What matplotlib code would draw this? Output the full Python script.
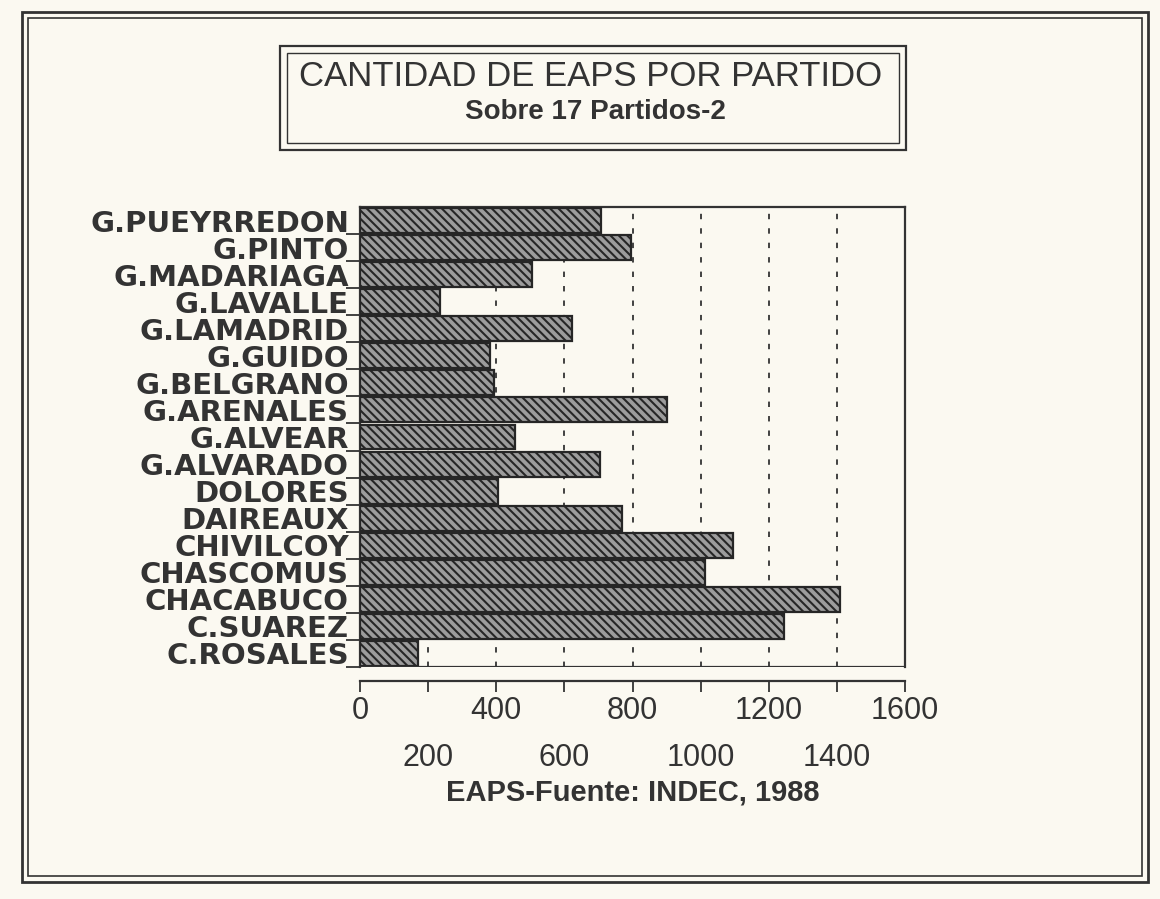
import numpy as np
import matplotlib.pyplot as plt
from matplotlib.patches import Rectangle
from matplotlib.ticker import FixedLocator, FixedFormatter

# data (bottom to top)
partidos = ['C.ROSALES', 'C.SUAREZ', 'CHACABUCO', 'CHASCOMUS', 'CHIVILCOY',
            'DAIREAUX', 'DOLORES', 'G.ALVARADO', 'G.ALVEAR', 'G.ARENALES',
            'G.BELGRANO', 'G.GUIDO', 'G.LAMADRID', 'G.LAVALLE', 'G.MADARIAGA',
            'G.PINTO', 'G.PUEYRREDON']
eaps = [170, 1245, 1410, 1012, 1095, 770, 405, 705, 455, 900,
        392, 382, 623, 236, 505, 797, 708]

major_ticks = [0, 400, 800, 1200, 1600]
minor_ticks = [200, 600, 1000, 1400]

ink = '#333333'
paper = '#fbf9f1'

plt.rcParams['font.family'] = ['Liberation Sans', 'DejaVu Sans']
plt.rcParams['hatch.color'] = '#2a2a2a'
plt.rcParams['hatch.linewidth'] = 1.5

fig = plt.figure(figsize=(11.6, 8.99), dpi=100, facecolor=paper)
W, H = 1160, 899

def px_rect(x0, y0, x1, y1, lw):
    # rectangle in pixel coords, origin top-left
    fig.patches.append(Rectangle((x0 / W, 1 - y1 / H), (x1 - x0) / W, (y1 - y0) / H,
                                 transform=fig.transFigure, fill=False,
                                 edgecolor=ink, linewidth=lw))

# outer double frame
px_rect(22, 12, 1148, 882, 2.0)
px_rect(28, 18, 1142, 876, 1.2)
# title double box
px_rect(280, 46, 906, 150, 1.6)
px_rect(287, 53, 899, 143, 1.0)

fig.text(591 / W, 1 - 76 / H, 'CANTIDAD DE EAPS POR PARTIDO', ha='center', va='center',
         fontsize=25, color=ink, fontweight='medium')
fig.text(595 / W, 1 - 112 / H, 'Sobre 17 Partidos-2', ha='center', va='center',
         fontsize=20, fontweight='bold', color=ink)

ax = fig.add_axes([360 / W, 1 - 667 / H, 545 / W, 460 / H])
ax.set_facecolor(paper)

y = np.arange(len(partidos))
ax.barh(y, eaps, height=0.92, color='#9c9c9c', edgecolor='#262626',
        hatch='\\\\\\\\', linewidth=1.6, zorder=3)

ax.set_xlim(0, 1600)
ax.set_ylim(-0.5, len(partidos) - 0.5)

for g in [200, 400, 600, 800, 1000, 1200, 1400]:
    ax.axvline(g, color=ink, linestyle=(0, (3, 5)), linewidth=1.3, zorder=1)

ax.set_yticks(y)
ax.set_yticklabels(partidos, fontsize=21, fontweight='bold', color=ink,
                   family='DejaVu Sans')
ax.yaxis.set_minor_locator(FixedLocator(y - 0.5))
ax.tick_params(axis='y', which='major', length=0, pad=8)
ax.tick_params(axis='y', which='minor', length=10, width=1.3, color=ink)

ax.xaxis.set_major_locator(FixedLocator(major_ticks))
ax.xaxis.set_major_formatter(FixedFormatter([str(v) for v in major_ticks]))
ax.xaxis.set_minor_locator(FixedLocator(minor_ticks))
ax.xaxis.set_minor_formatter(FixedFormatter([str(v) for v in minor_ticks]))
ax.tick_params(axis='x', which='major', length=8, width=1.3, color=ink,
               labelsize=22, labelcolor=ink, pad=3)
ax.tick_params(axis='x', which='minor', length=8, width=1.3, color=ink,
               labelsize=22, labelcolor=ink, pad=37)

# floor line of the pseudo-3D base
ax.spines['bottom'].set_position(('outward', 10))
ax.axhline(-0.5, color=ink, linewidth=1.6, zorder=4)

ax.set_xlabel('EAPS-Fuente: INDEC, 1988', fontsize=21, fontweight='bold',
              color=ink, labelpad=4)

for s in ax.spines.values():
    s.set_color(ink)
    s.set_linewidth(1.6)

fig.savefig('out.png', dpi=100, facecolor=paper)
